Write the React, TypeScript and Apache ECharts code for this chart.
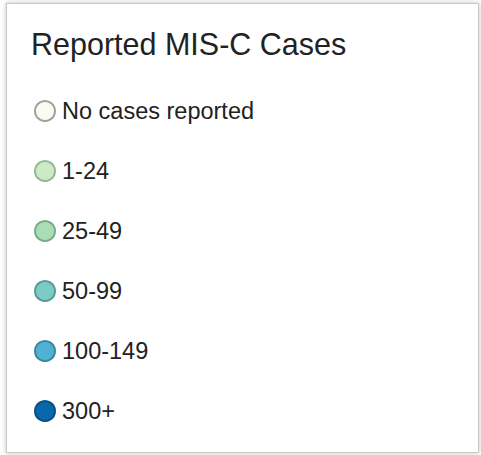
import React, { useEffect, useRef } from "react";
import * as echarts from "echarts";

const titleText = "Reported MIS-C Cases";
const categories = ["No cases reported", "1-24", "25-49", "50-99", "100-149", "300+"];
const fillColors = ["#f7fcf0", "#ccebc5", "#a8ddb5", "#7bccc4", "#4eb3d3", "#0868ac"];
const borderColors = ["#a0a0a0", "#94b88f", "#79ab86", "#5a9a94", "#3a86a0", "#0a4f80"];

const FONT = "'Liberation Sans', Arial, Helvetica, sans-serif";

export default function App() {
  const ref = useRef<HTMLDivElement>(null);
  useEffect(() => {
    if (!ref.current) return;
    const chart = echarts.init(ref.current, undefined, { renderer: "svg" });
    chart.setOption({
      animation: false,
      backgroundColor: "transparent",
      title: {
        text: titleText,
        left: 26,
        top: 23,
        textStyle: {
          fontFamily: FONT,
          fontSize: 30.5,
          fontWeight: "normal",
          color: "#222",
        },
      },
      grid: { left: 0, top: 0, width: 1, height: 1, show: false },
      xAxis: { show: false, type: "value" },
      yAxis: { show: false, type: "value" },
      legend: {
        orient: "vertical",
        left: 29,
        top: 94,
        icon: "circle",
        itemWidth: 20,
        itemHeight: 20,
        itemGap: 36,
        selectedMode: false,
        data: categories,
        textStyle: {
          fontFamily: FONT,
          fontSize: 23.5,
          lineHeight: 24,
          color: "#222",
          padding: [0, 0, 0, 2],
        },
      },
      series: categories.map((name, i) => ({
        name,
        type: "scatter",
        data: [],
        itemStyle: {
          color: fillColors[i],
          borderColor: borderColors[i],
          borderWidth: 1,
          opacity: 1,
        },
      })),
    });
    return () => chart.dispose();
  }, []);

  return (
    <div style={{ position: "fixed", left: 0, top: 0, width: 481, height: 455, background: "#fff", overflow: "hidden" }}>
      <div
        style={{
          position: "absolute",
          left: 6,
          top: 3,
          width: 473,
          height: 450,
          boxSizing: "border-box",
          border: "1px solid #c9c9c9",
          boxShadow: "0 0 5px rgba(0,0,0,0.25)",
          background: "#fff",
        }}
      />
      <div ref={ref} style={{ position: "absolute", left: 0, top: 0, width: 481, height: 455 }} />
    </div>
  );
}
